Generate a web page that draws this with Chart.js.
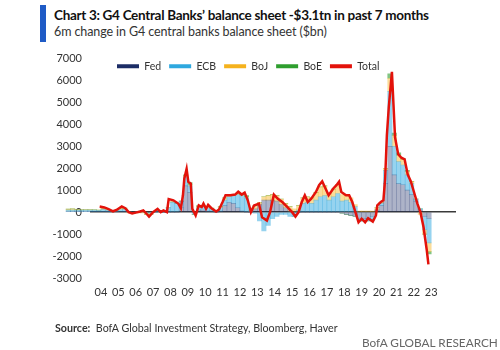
<!DOCTYPE html>
<html>
<head>
<meta charset="utf-8">
<script src="https://cdn.jsdelivr.net/npm/chart.js@4.4.1/dist/chart.umd.min.js"></script>
<style>
  body { margin: 0; width: 500px; height: 350px; position: relative; background: #fff; overflow: hidden; font-family: "Lato", sans-serif; }
  .bar { position: absolute; left: 40px; top: 5px; width: 6px; height: 37px; background: #1f5bc6; }
  .title { position: absolute; left: 54px; top: 7px; font-size: 13.5px; font-weight: bold; color: #111; white-space: nowrap; letter-spacing: -0.3px; }
  .sub { position: absolute; left: 54px; top: 24px; font-size: 12.5px; color: #333; white-space: nowrap; letter-spacing: -0.1px; }
  .chart { position: absolute; left: 0; top: 0; width: 500px; height: 350px; }
  .src { position: absolute; left: 55px; top: 321px; font-size: 10.7px; color: #333; white-space: nowrap; }
  .brand { position: absolute; left: 362px; top: 335px; font-size: 11.8px; color: #666; white-space: nowrap; }
</style>
</head>
<body>
<div class="bar"></div>
<div class="title">Chart 3: G4 Central Banks’ balance sheet -$3.1tn in past 7 months</div>
<div class="sub">6m change in G4 central banks balance sheet ($bn)</div>
<div class="chart"><canvas id="myChart"></canvas></div>
<div class="src"><b>Source:</b>&nbsp; BofA Global Investment Strategy, Bloomberg, Haver</div>
<div class="brand">BofA GLOBAL RESEARCH</div>
<script>
// quarterly components, 2002 Q1 .. 2022 Q4 ($bn, 6m change)
const years = [2002, 2003, 2004, 2005, 2006, 2007, 2008, 2009, 2010, 2011, 2012,
  2013, 2014, 2015, 2016, 2017, 2018, 2019, 2020, 2021, 2022];

// x axis labels
const tickYears = [2004, 2005, 2006, 2007, 2008, 2009, 2010, 2011, 2012, 2013,
  2014, 2015, 2016, 2017, 2018, 2019, 2020, 2021, 2022, 2023];

const fed = [
  30, 30, 30, 30,   30, 30, 30, 30,   30, 20, 20, 20,   40, 40, 20, 0,
  10, 20, 0, 0,     10, 20, 0, 0,     0, 0, 200, 1200,  900, 0, 100, 100,
  50, 50, 0, 50,    300, 450, 400, 200, 50, 0, 0, 150,  350, 550, 550, 550,
  500, 350, 200, 50, 0, 0, 0, 0,      0, 0, 0, 0,       0, 0, 0, -50,
  -100, -150, -200, -300, -300, -300, -200, 100,
  300, 1300, 3000, 1700, 1300, 1250, 1000, 800, 500, 100, -200, -300
];
const ecb = [
  60, 60, 60, 60,   60, 60, 60, 50,   100, 60, 20, 30,  80, 100, 0, -20,
  30, 60, -20, -50, 30, 60, 0, 200,   450, 400, 300, 400, 300, -100, 100, 150,
  150, 100, 50, 150, 250, 250, 350, 600, 700, 650, 50, -50, -400, -850, -600, -300,
  -200, -100, -100, -200, -200, 100, 400, 450, 400, 550, 700, 750, 550, 700, 850, 500,
  550, 450, 250, -100, -100, -100, -150, 0,
  100, 600, 2500, 1300, 1000, 900, 700, 500, 100, 50, -600, -1100
];
const boj = [
  50, 60, 40, 30,   30, 30, 20, 20,   50, 30, 0, 20,    50, 40, -20, -30,
  -30, -20, -80, -50, 0, 0, 30, 0,    20, 0, 0, 50,     50, 0, 50, 50,
  50, 30, 0, 50,    100, 50, 50, 50,  50, 50, 50, 150,  100, 150, 200, 250,
  250, 250, 200, 200, 150, 200, 250, 250, 250, 350, 450, 450, 300, 350, 400, 300,
  250, 200, 100, 50, 50, 50, 50, 100,
  50, 100, 600, 500, 300, 250, 150, 100, 0, -100, -200, -400
];
const boe = [
  0, 0, 0, 0,       0, 0, 0, 0,       0, 0, 0, 0,       0, 0, 0, 0,
  0, 0, 0, 0,       0, 0, 0, 0,       0, 0, 0, 50,      100, 0, 50, 0,
  0, 0, 0, 0,       0, 0, 0, 0,       0, 50, 0, 0,      0, 0, 0, 0,
  0, 0, 0, 0,       0, 0, 0, 0,       0, 0, 0, 0,       0, 0, 0, 0,
  0, 0, 0, 0,       0, 0, 0, 0,
  0, 0, 200, 100,   100, 50, 50, 0,   0, 0, 0, -100
];

// total line (decimal year, $bn)
const totalX = [2003.93, 2004.2, 2004.44, 2004.7, 2004.9, 2005.2, 2005.4, 2005.6, 2005.8, 2006.0,
  2006.26, 2006.44, 2006.6, 2006.77, 2007.0, 2007.26, 2007.44, 2007.6, 2007.8, 2007.9,
  2008.17, 2008.45, 2008.6, 2008.72, 2008.8, 2008.93, 2009.03, 2009.17, 2009.26, 2009.45,
  2009.63, 2009.8, 2009.9, 2010.05, 2010.17, 2010.36, 2010.63, 2010.8, 2011.0, 2011.17,
  2011.45, 2011.72, 2011.9, 2012.1, 2012.27, 2012.45, 2012.63, 2012.81, 2013.09, 2013.27,
  2013.55, 2013.73, 2013.95, 2014.18, 2014.45, 2014.73, 2015.0, 2015.19, 2015.37, 2015.55,
  2015.73, 2015.9, 2016.1, 2016.37, 2016.55, 2016.73, 2016.92, 2017.1, 2017.37, 2017.55,
  2017.7, 2017.83, 2018.1, 2018.28, 2018.46, 2018.64, 2018.82, 2019.0, 2019.2, 2019.37,
  2019.64, 2019.82, 2019.9, 2020.1, 2020.25, 2020.35, 2020.45, 2020.56, 2020.74, 2020.92,
  2021.1, 2021.28, 2021.47, 2021.65, 2021.83, 2022.0, 2022.2, 2022.38, 2022.56, 2022.74, 2022.84];
const totalY = [260, 215, 140, 40, 100, 260, 180, 0, -60, -20,
  30, 80, -50, -200, 0, 150, 0, 80, 0, 600,
  540, 390, 180, 770, 1540, 1970, 1380, 1300, 150, -150,
  310, 230, 390, 150, 330, 180, 30, 120, 460, 770,
  770, 800, 930, 800, 890, 540, 0, 300, 390, -230,
  -380, 0, 800, 610, 450, 230, 0, -200, 0, 450,
  770, 460, 610, 920, 1230, 1400, 1080, 770, 1080, 1230,
  1390, 920, 770, 770, 460, 0, -460, -300, -460, -280,
  -430, -150, 310, 460, 540, 1500, 3500, 4780, 6390, 3410,
  2640, 2480, 2410, 1710, 1400, 940, 400, 0, -690, -1700, -2380];

const seriesNames = ["Fed", "ECB", "BoJ", "BoE", "Total"];
const legendColors = ["#1c2d66", "#2ea8df", "#f5b21d", "#2e9e2e", "#e3120b"];
const fillColors = ["rgba(28, 45, 102, 0.36)", "rgba(46, 168, 223, 0.5)", "rgba(245, 178, 29, 0.45)", "rgba(46, 158, 46, 0.6)"];

const quarterX = [];
years.forEach(y => { for (let q = 0; q < 4; q++) quarterX.push(y + q * 0.25 + 0.125); });
const toPoints = vals => vals.map((v, i) => ({ x: quarterX[i], y: v }));

const barSet = (i, vals) => ({
  type: "bar",
  label: seriesNames[i],
  data: toPoints(vals),
  backgroundColor: fillColors[i],
  borderWidth: 0,
  barPercentage: 1,
  categoryPercentage: 1,
  stack: "cb",
  clip: { left: 40, top: 0, right: 0, bottom: 0 },
  order: 2,
});

const ctx = document.getElementById("myChart");

new Chart(ctx, {
  data: {
    datasets: [
      barSet(0, fed),
      barSet(1, ecb),
      barSet(2, boj),
      barSet(3, boe),
      {
        type: "line",
        label: "Total",
        data: totalX.map((x, i) => ({ x: x, y: totalY[i] })),
        borderColor: "#e3120b",
        borderWidth: 2.5,
        pointRadius: 0,
        tension: 0,
        stack: "total",
        order: 1,
      },
    ],
  },
  options: {
    responsive: true,
    maintainAspectRatio: false,
    animation: false,
    layout: { padding: { top: 30, right: 44, bottom: 42, left: 0 } },
    plugins: {
      tooltip: { enabled: false },
      legend: {
        position: "top",
        align: "start",
        labels: {
          boxWidth: 22,
          boxHeight: 4,
          padding: 8,
          color: "#333",
          font: { family: "Lato", size: 10.5 },
          generateLabels: (chart) =>
            seriesNames.map((name, i) => ({
              text: name,
              fillStyle: legendColors[i],
              strokeStyle: legendColors[i],
              lineWidth: 0,
              datasetIndex: i,
              fontColor: "#333",
            })),
        },
      },
    },
    scales: {
      x: {
        type: "linear",
        stacked: true,
        min: 2003.9,
        max: 2023.9,
        grid: { display: false, drawTicks: false },
        border: { display: false },
        afterFit: (scale) => { scale.height = 30; },
        afterBuildTicks: (scale) => { scale.ticks = tickYears.map(v => ({ value: v })); },
        ticks: {
          padding: 8,
          autoSkip: false,
          maxRotation: 0,
          color: "#333",
          font: { family: "Lato", size: 11 },
          callback: (v) => String(v).slice(2),
        },
      },
      y: {
        stacked: true,
        min: -3000,
        max: 7000,
        afterFit: (scale) => { scale.width = 90; },
        grid: {
          drawTicks: false,
          color: (c) => (c.tick && c.tick.value === 0 ? "#3a3a3a" : "rgba(0,0,0,0)"),
          lineWidth: (c) => (c.tick && c.tick.value === 0 ? 1.5 : 0),
        },
        border: { display: false },
        ticks: {
          stepSize: 1000,
          padding: 8,
          color: "#333",
          font: { family: "Lato", size: 11 },
          callback: (v) => String(v),
        },
      },
    },
  },
  plugins: [
    {
      // the legend sits inside the top of the plot, as in the original
      id: "legendNudge",
      afterLayout(chart) {
        const lg = chart.legend;
        const w = lg.width, h = lg.height;
        lg.left = 109;
        lg.right = 109 + w;
        lg.top = 53;
        lg.bottom = 53 + h;
      },
    },
  ],
});
</script>
</body>
</html>
